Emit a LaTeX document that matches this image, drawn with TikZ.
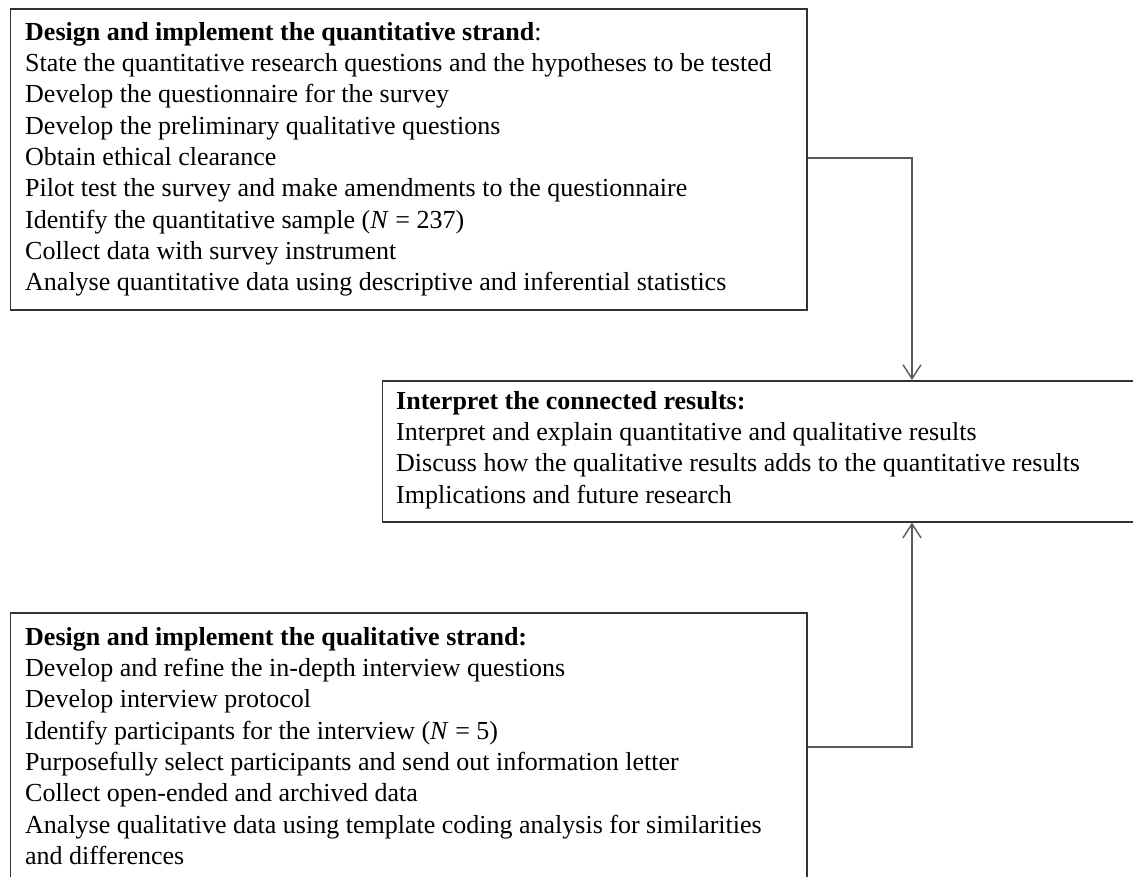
\documentclass[tikz,border=0pt]{standalone}
\usepackage{fontspec}
\setmainfont{Liberation Serif}
\usetikzlibrary{arrows.meta}
\begin{document}
\begin{tikzpicture}[x=1pt,y=-1pt,
  frame/.style={draw=black!80, line width=1.6pt, inner sep=0pt, anchor=north west},
  body/.style={anchor=north west, inner sep=0pt, align=left,
    font=\fontsize{26}{31.3}\selectfont},
  conn/.style={draw=black!65, line width=1.4pt,
    -{Straight Barb[length=14pt,width=18pt,line width=1.4pt]}}]
\useasboundingbox (0,0) rectangle (1133,877);
\fill[white] (0,0) rectangle (1133,877);

% frames of the three stages
\node[frame, minimum width=796.5pt, minimum height=301pt] (quan) at (9.5,8) {};
\node[frame, minimum width=760pt, minimum height=141pt] (interp) at (381.5,380) {};
\node[frame, minimum width=796.5pt, minimum height=272pt] (qual) at (9.5,612) {};

% contents
\node[body] (quantext) at (25,18.1) {\strut\textbf{Design and implement the quantitative strand}:\\
State the quantitative research questions and the hypotheses to be tested\\
Develop the questionnaire for the survey\\
Develop the preliminary qualitative questions\\
Obtain ethical clearance\\
Pilot test the survey and make amendments to the questionnaire\\
Identify the quantitative sample (\textit{N} = 237)\\
Collect data with survey instrument\\
Analyse quantitative data using descriptive and inferential statistics};

\node[body] (interptext) at (396,387.1) {\strut\textbf{Interpret the connected results:}\\
Interpret and explain quantitative and qualitative results\\
Discuss how the qualitative results adds to the quantitative results\\
Implications and future research};

\node[body] (qualtext) at (25,623.1) {\strut\textbf{Design and implement the qualitative strand:}\\
Develop and refine the in-depth interview questions\\
Develop interview protocol\\
Identify participants for the interview (\textit{N} = 5)\\
Purposefully select participants and send out information letter\\
Collect open-ended and archived data\\
Analyse qualitative data using template coding analysis for similarities\\
and differences};

% connectors
\coordinate (jq) at (912,158);
\coordinate (jl) at (912,747);
\draw[conn] (quan.east |- jq) -| (interp.north -| jq);
\draw[conn] (qual.east |- jl) -| (interp.south -| jl);
\end{tikzpicture}
\end{document}
